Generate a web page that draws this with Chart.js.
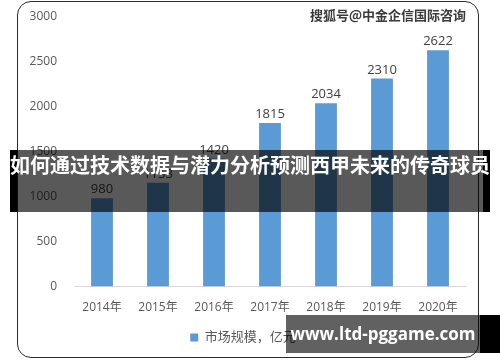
<!DOCTYPE html>
<html>
<head>
<meta charset="utf-8">
<script src="https://cdn.jsdelivr.net/npm/chart.js@4"></script>
<style>
	html, body { margin: 0; padding: 0; background: #fff; }
	#wrap { position: relative; width: 500px; height: 362px; overflow: hidden; }
	#frame { position: absolute; left: 17px; top: 1px; width: 462px; height: 357px;
		border: 1.5px solid #2a2a2a; border-radius: 14px; box-sizing: border-box; }
	#mark { position: absolute; left: 310px; top: 5px; font: bold 13px 'Noto Sans CJK SC', sans-serif;
		color: #3a3a3a; }
	.bandEnd { position: absolute; background: #000; }
	#band { position: absolute; left: 17px; top: 150px; width: 466px; height: 62px; background: rgba(0,0,0,0.65); }
	#bandText { position: absolute; left: 0; top: 150px; width: 500px; height: 62px; line-height: 62px;
		text-align: center; color: #fff; font: bold 20px 'Noto Sans CJK SC', sans-serif; white-space: nowrap; }
	#site { position: absolute; left: 286px; top: 315px; width: 194px; height: 38px; background: rgba(0,0,0,0.62);
		color: #fff; font: bold 17px 'Open Sans', sans-serif; line-height: 38px; text-align: center; white-space: nowrap; }
	canvas { position: absolute; left: 0; top: 0; }
</style>
</head>
<body>
<div id="wrap">
	<canvas id="c" width="500" height="362"></canvas>
	<div id="frame"></div>
	<div id="mark">搜狐号@中金企信国际咨询</div>
	<div class="bandEnd" style="left:10px;top:150px;width:7px;height:62px"></div>
	<div class="bandEnd" style="left:483px;top:150px;width:7px;height:62px"></div>
	<div id="band"></div>
	<div id="bandText">如何通过技术数据与潜力分析预测西甲未来的传奇球员</div>
	<div class="bandEnd" style="left:480px;top:315px;width:20px;height:38px"></div>
	<div id="site">www.ltd-pggame.com</div>
</div>
<script>
var years = ["2014年", "2015年", "2016年", "2017年", "2018年", "2019年", "2020年"];
var market_size = [980, 1153, 1420, 1815, 2034, 2310, 2622];
var series_name = "市场规模，亿元";

var font_family = "'Open Sans', 'Noto Sans CJK SC', sans-serif";

// value labels above each bar
var bar_labels = {
	id: "bar_labels",
	afterDatasetsDraw: function(chart) {
		var ctx = chart.ctx;
		var meta = chart.getDatasetMeta(0);
		ctx.save();
		ctx.font = "13px " + font_family;
		ctx.fillStyle = "#404040";
		ctx.textAlign = "center";
		ctx.textBaseline = "bottom";
		meta.data.forEach(function(bar, i) {
			ctx.fillText(market_size[i], bar.x, bar.y - 2);
		});
		ctx.restore();
	}
};

new Chart(document.getElementById("c"), {
	type: "bar",
	data: {
		labels: years,
		datasets: [{
			label: series_name,
			data: market_size,
			backgroundColor: "#5b9bd5",
			borderWidth: 0,
			categoryPercentage: 1,
			barPercentage: 0.39
		}]
	},
	options: {
		responsive: false,
		animation: false,
		layout: { padding: { left: 20, right: 34, top: 2, bottom: 8 } },
		plugins: {
			legend: {
				position: "bottom",
				labels: {
					boxWidth: 8, boxHeight: 8, padding: 10,
					color: "#595959",
					font: { size: 13, family: font_family }
				}
			},
			tooltip: { enabled: false }
		},
		scales: {
			x: {
				grid: { display: false },
				border: { color: "#d9d9d9", width: 1 },
				ticks: { color: "#595959", font: { size: 12, family: font_family }, padding: 6 }
			},
			y: {
				min: 0, max: 3000,
				grid: { display: false },
				border: { display: false },
				ticks: {
					stepSize: 500, color: "#595959", font: { size: 12, family: font_family }, padding: 9,
					callback: function(v) { return String(v); }
				},
				afterFit: function(scale) { scale.width = 54; }
			}
		}
	},
	plugins: [bar_labels]
});
</script>
</body>
</html>
